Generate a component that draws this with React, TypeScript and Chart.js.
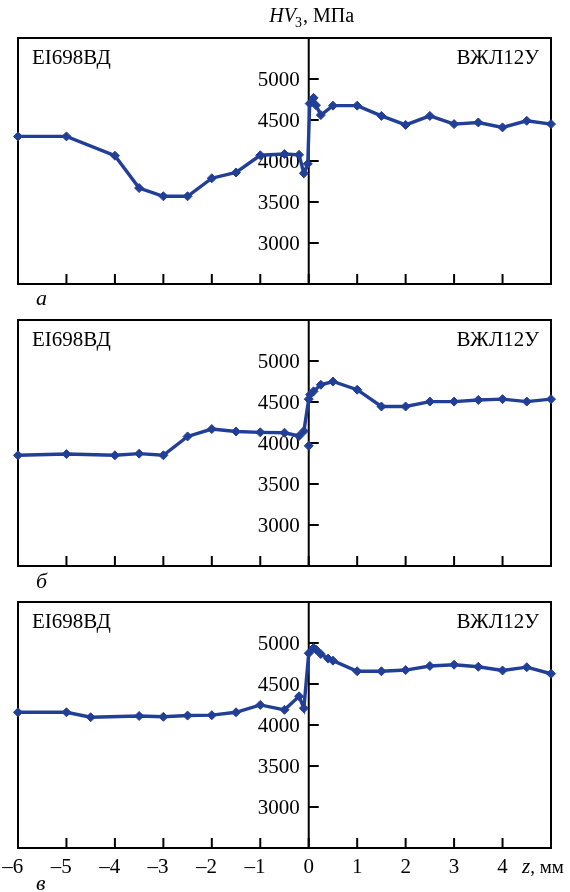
import React, { useEffect, useRef } from "react";
import { Chart, registerables } from "chart.js";

Chart.register(...registerables);

// ---- data (z, mm ; HV3, MPa) ----
const zA = [-6, -5, -4, -3.5, -3, -2.5, -2, -1.5, -1, -0.5, -0.2, -0.1, -0.02, 0.02, 0.1, 0.15, 0.25, 0.5, 1, 1.5, 2, 2.5, 3, 3.5, 4, 4.5, 5];
const hvA = [4300, 4300, 4065, 3670, 3570, 3570, 3790, 3860, 4070, 4085, 4075, 3850, 3965, 4700, 4770, 4680, 4560, 4675, 4675, 4550, 4440, 4550, 4450, 4470, 4410, 4490, 4450];

const zB = [-6, -5, -4, -3.5, -3, -2.5, -2, -1.5, -1, -0.5, -0.2, -0.1, 0, 0.03, 0.1, 0.25, 0.5, 1, 1.5, 2, 2.5, 3, 3.5, 4, 4.5, 5];
const hvB = [3850, 3865, 3850, 3870, 3850, 4080, 4170, 4140, 4130, 4125, 4085, 4145, 4535, 4590, 4630, 4710, 4750, 4650, 4445, 4445, 4505, 4505, 4525, 4535, 4505, 4535];
const zBsingle = [0];
const hvBsingle = [3965];

const zC = [-6, -5, -4.5, -3.5, -3, -2.5, -2, -1.5, -1, -0.5, -0.2, -0.1, 0, 0.1, 0.15, 0.25, 0.4, 0.5, 1, 1.5, 2, 2.5, 3, 3.5, 4, 4.5, 5];
const hvC = [4155, 4155, 4095, 4110, 4100, 4115, 4120, 4155, 4245, 4185, 4350, 4205, 4875, 4940, 4920, 4865, 4810, 4785, 4655, 4655, 4670, 4720, 4735, 4710, 4665, 4705, 4625];

const yTicks = [3000, 3500, 4000, 4500, 5000];
const xTicks = [-6, -5, -4, -3, -2, -1, 0, 1, 2, 3, 4];
const leftAlloy = "EI698ВД";
const rightAlloy = "ВЖЛ12У";
const panelLetters = ["а", "б", "в"];
const xUnit = ", мм";
const yTitleMain = "HV";
const yTitleSub = "3";
const yTitleUnit = ", МПа";

const LINE = "#223f98";
const FONT = '"Liberation Serif", "Times New Roman", serif';

type PanelProps = {
  top: number;
  height: number;
  padTop: number;
  padBottom: number;
  z: number[];
  hv: number[];
  extraZ?: number[];
  extraHv?: number[];
  letter: string;
  letterDy: number;
  showX: boolean;
  showTitle: boolean;
};

function Panel(p: PanelProps) {
  const ref = useRef<HTMLCanvasElement>(null);
  useEffect(() => {
    const decor = {
      id: "decor",
      beforeDatasetsDraw(chart: any) {
        const { ctx, chartArea: a, scales } = chart;
        const xs = scales.x;
        const ys = scales.y;
        ctx.save();
        ctx.strokeStyle = "#000";
        ctx.fillStyle = "#000";
        ctx.lineWidth = 2;
        ctx.strokeRect(a.left, a.top, a.right - a.left, a.bottom - a.top);
        const x0 = xs.getPixelForValue(0);
        ctx.beginPath();
        ctx.moveTo(x0, a.top);
        ctx.lineTo(x0, a.bottom);
        ctx.stroke();
        // x ticks (inward)
        for (const t of xTicks) {
          const px = xs.getPixelForValue(t);
          ctx.beginPath();
          ctx.moveTo(px, a.bottom);
          ctx.lineTo(px, a.bottom - 10);
          ctx.stroke();
        }
        // y ticks + labels
        ctx.font = `21px ${FONT}`;
        ctx.textAlign = "right";
        ctx.textBaseline = "alphabetic";
        for (const v of yTicks) {
          const py = ys.getPixelForValue(v);
          ctx.beginPath();
          ctx.moveTo(x0, py);
          ctx.lineTo(x0 + 10, py);
          ctx.stroke();
          ctx.fillText(String(v), x0 - 9, py + 7);
        }
        // alloy names
        ctx.textAlign = "left";
        ctx.fillText(leftAlloy, a.left + 14, a.top + 26);
        ctx.textAlign = "right";
        ctx.fillText(rightAlloy, a.right - 12, a.top + 26);
        // panel letter
        ctx.font = `italic 22px ${FONT}`;
        ctx.textAlign = "left";
        ctx.fillText(p.letter, 36, a.bottom + p.letterDy);
        // x labels
        if (p.showX) {
          ctx.font = `21px ${FONT}`;
          ctx.textAlign = "left";
          for (const t of xTicks) {
            const px = xs.getPixelForValue(t);
            const digit = String(Math.abs(t));
            const dw = ctx.measureText(digit).width;
            let start = px - dw / 2;
            if (t < 0) {
              const mw = ctx.measureText("–").width;
              start -= mw;
              ctx.fillText("–" + digit, start, a.bottom + 25);
            } else {
              ctx.fillText(digit, start, a.bottom + 25);
            }
          }
          const ux = xs.getPixelForValue(5) - 29;
          ctx.font = `italic 21px ${FONT}`;
          ctx.fillText("z", ux, a.bottom + 25);
          const zw = ctx.measureText("z").width;
          ctx.font = `19px ${FONT}`;
          ctx.fillText(xUnit, ux + zw, a.bottom + 25);
        }
        if (p.showTitle) {
          ctx.font = `italic 20px ${FONT}`;
          const w1 = ctx.measureText(yTitleMain).width;
          ctx.font = `14px ${FONT}`;
          const w2 = ctx.measureText(yTitleSub).width;
          ctx.font = `20px ${FONT}`;
          const w3 = ctx.measureText(yTitleUnit).width;
          let sx = x0 + 3 - (w1 + w2 + w3) / 2;
          ctx.textAlign = "left";
          ctx.font = `italic 20px ${FONT}`;
          ctx.fillText(yTitleMain, sx, 22);
          sx += w1 - 1;
          ctx.font = `14px ${FONT}`;
          ctx.fillText(yTitleSub, sx, 27);
          sx += w2 + 1;
          ctx.font = `20px ${FONT}`;
          ctx.fillText(yTitleUnit, sx, 22);
        }
        ctx.restore();
      },
    };

    const datasets: any[] = [
      {
        data: p.z.map((x, i) => ({ x, y: p.hv[i] })),
        borderColor: LINE,
        backgroundColor: LINE,
        borderWidth: 3.4,
        pointStyle: "rectRot",
        pointRadius: 4.5,
        pointBorderWidth: 1,
        tension: 0,
        clip: false,
      },
    ];
    if (p.extraZ && p.extraHv) {
      datasets.push({
        data: p.extraZ.map((x, i) => ({ x, y: p.extraHv![i] })),
        borderColor: LINE,
        backgroundColor: LINE,
        showLine: false,
        pointStyle: "rectRot",
        pointRadius: 4.5,
        pointBorderWidth: 1,
        clip: false,
      });
    }

    const chart = new Chart(ref.current!, {
      type: "line",
      data: { datasets },
      options: {
        animation: false,
        responsive: false,
        devicePixelRatio: 1,
        layout: { padding: { left: 18, right: 19, top: p.padTop, bottom: p.padBottom } },
        scales: {
          x: { type: "linear", min: -6, max: 5, display: false },
          y: { type: "linear", min: 2500, max: 5500, display: false },
        },
        plugins: { legend: { display: false }, tooltip: { enabled: false }, title: { display: false } },
      },
      plugins: [decor],
    } as any);
    return () => chart.destroy();
  }, []);
  return (
    <canvas
      ref={ref}
      width={570}
      height={p.height}
      style={{ position: "absolute", left: 0, top: p.top, display: "block" }}
    />
  );
}

export default function App() {
  useEffect(() => {
    document.body.style.margin = "0";
  }, []);
  return (
    <div style={{ position: "absolute", left: 0, top: 0, width: 570, height: 892, background: "#fff", overflow: "hidden" }}>
      <Panel top={0} height={310} padTop={38} padBottom={26} z={zA} hv={hvA} letter={panelLetters[0]} letterDy={21} showX={false} showTitle={true} />
      <Panel top={310} height={282} padTop={10} padBottom={26} z={zB} hv={hvB} extraZ={zBsingle} extraHv={hvBsingle} letter={panelLetters[1]} letterDy={22} showX={false} showTitle={false} />
      <Panel top={592} height={300} padTop={10} padBottom={44} z={zC} hv={hvC} letter={panelLetters[2]} letterDy={42} showX={true} showTitle={false} />
    </div>
  );
}
